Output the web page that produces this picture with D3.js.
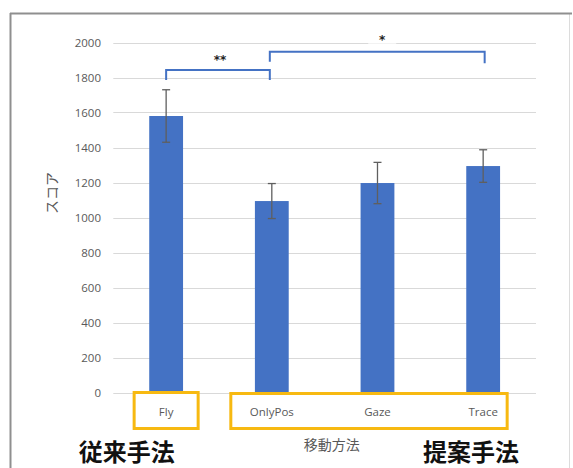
<!DOCTYPE html>
<html><head><meta charset="utf-8">
<script src="https://cdn.jsdelivr.net/npm/d3@7"></script>
<style>body{margin:0;background:#fff}svg{display:block}</style>
</head><body>
<script>
const categories = ["Fly", "OnlyPos", "Gaze", "Trace"];
const means = [1580, 1094, 1197, 1294];
const errors = [150, 100, 118, 93];
const yTicks = [0, 200, 400, 600, 800, 1000, 1200, 1400, 1600, 1800, 2000];
const brackets = [
  {from: "Fly", to: "OnlyPos", top: 1843, leftEnd: 1786, rightEnd: 1786, label: "**", labelY: 1906},
  {from: "OnlyPos", to: "Trace", top: 1947, leftEnd: 1890, rightEnd: 1881, label: "*", labelY: 2022}
];
const groupLabels = ["従来手法", "提案手法"];
const xTitle = "移動方法";
const yTitle = "スコア";

const W = 573, H = 468;
const svg = d3.select("body").append("svg").attr("width", W).attr("height", H);

// frame
svg.append("rect").attr("x", 10.5).attr("y", 13.5).attr("width", 559).attr("height", 470)
  .attr("fill", "#fff").attr("stroke", "#dcdcdc").attr("stroke-width", 1);
svg.append("line").attr("x1", 10).attr("x2", 572).attr("y1", 13.5).attr("y2", 13.5).attr("stroke", "#8f8f8f").attr("stroke-width", 2);
svg.append("line").attr("x1", 10.5).attr("x2", 10.5).attr("y1", 13).attr("y2", 468).attr("stroke", "#8f8f8f").attr("stroke-width", 2);

const x = d3.scaleBand().domain(categories).range([113.3, 536]).paddingInner(0.68).paddingOuter(0.34);
const y = d3.scaleLinear().domain([0, 2000]).range([392.5, 42.5]);
const cx = c => x(c) + x.bandwidth() / 2;

// gridlines
svg.append("g").selectAll("line").data(yTicks).join("line")
  .attr("x1", 113.3).attr("x2", 536)
  .attr("y1", d => Math.round(y(d)) + 0.5).attr("y2", d => Math.round(y(d)) + 0.5)
  .attr("stroke", "#d9d9d9").attr("stroke-width", 1);

// y axis labels
const yAxis = d3.axisLeft(y).tickValues(yTicks).tickFormat(d3.format("d")).tickSize(0).tickPadding(0);
const ya = svg.append("g").attr("transform", "translate(101,0)").call(yAxis);
ya.select(".domain").remove();
ya.selectAll("text").attr("font-family", "'Open Sans', sans-serif").attr("font-size", 11.5).attr("fill", "#595959");

// bars
const data = categories.map((c, i) => ({c, m: means[i], e: errors[i]}));
svg.append("g").selectAll("rect").data(data).join("rect")
  .attr("x", d => x(d.c)).attr("width", x.bandwidth())
  .attr("y", d => y(d.m)).attr("height", d => y(0) - y(d.m))
  .attr("fill", "#4472C4");

// error bars
const eb = svg.append("g").attr("stroke", "#5f5f5f").attr("stroke-width", 1.3).attr("fill", "none");
data.forEach(d => {
  const xc = cx(d.c);
  eb.append("line").attr("x1", xc).attr("x2", xc).attr("y1", y(d.m + d.e)).attr("y2", y(d.m - d.e));
  eb.append("line").attr("x1", xc - 4).attr("x2", xc + 4).attr("y1", y(d.m + d.e)).attr("y2", y(d.m + d.e));
  eb.append("line").attr("x1", xc - 4).attr("x2", xc + 4).attr("y1", y(d.m - d.e)).attr("y2", y(d.m - d.e));
});

// category labels
const xAxis = d3.axisBottom(x).tickSize(0).tickPadding(0);
const xa = svg.append("g").attr("transform", "translate(0,411.5)").call(xAxis);
xa.select(".domain").remove();
xa.selectAll("text").attr("font-family", "'Open Sans', sans-serif").attr("font-size", 11.5).attr("fill", "#595959")
  .attr("dy", "0.35em");

// highlight boxes
const boxStroke = "#F7B911";
svg.append("rect").attr("x", cx("Fly") - 32).attr("y", 392.5).attr("width", 64).attr("height", 36)
  .attr("fill", "none").attr("stroke", boxStroke).attr("stroke-width", 3);
svg.append("rect").attr("x", cx("OnlyPos") - 41).attr("y", 393.5).attr("width", cx("Trace") + 24 - (cx("OnlyPos") - 41)).attr("height", 35)
  .attr("fill", "none").attr("stroke", boxStroke).attr("stroke-width", 3);

// brackets
brackets.forEach((b, i) => {
  const x1 = cx(b.from) + (i === 1 ? -2 : 0);
  const x2 = cx(b.to) + (i === 0 ? -2 : 1.5);
  const path = d3.path();
  path.moveTo(x1, y(b.leftEnd));
  path.lineTo(x1, y(b.top));
  path.lineTo(x2, y(b.top));
  path.lineTo(x2, y(b.rightEnd));
  const lx = (x1 + x2) / 2 + (i === 1 ? 5 : 2);
  if (i === 1) {
    svg.append("rect").attr("x", lx - 14).attr("y", y(b.labelY) - 5).attr("width", 28).attr("height", 10).attr("fill", "#fff");
  }
  svg.append("path").attr("d", path.toString()).attr("fill", "none").attr("stroke", "#4472C4").attr("stroke-width", 2);
  svg.append("text").attr("x", lx).attr("y", y(b.labelY) + 5)
    .attr("text-anchor", "middle").attr("font-family", "'DejaVu Sans', sans-serif").attr("font-weight", "bold")
    .attr("font-size", 12).attr("fill", "#222").text(b.label);
});

// axis titles
svg.append("text").attr("x", 331.7).attr("y", 445).attr("dy", "0.35em").attr("text-anchor", "middle")
  .attr("font-family", "'Noto Sans CJK JP', sans-serif").attr("font-size", 14).attr("fill", "#595959").text(xTitle);
svg.append("text").attr("transform", "translate(52,193) rotate(-90)").attr("dy", "0.35em").attr("text-anchor", "middle")
  .attr("font-family", "'Noto Sans CJK JP', sans-serif").attr("font-size", 14).attr("fill", "#595959").text(yTitle);

// group labels
svg.append("text").attr("x", 126.7).attr("y", 452).attr("dy", "0.36em").attr("text-anchor", "middle")
  .attr("font-family", "'Noto Sans CJK JP', sans-serif").attr("font-weight", "bold").attr("font-size", 24).attr("fill", "#111").text(groupLabels[0]);
svg.append("text").attr("x", 471).attr("y", 452.5).attr("dy", "0.36em").attr("text-anchor", "middle")
  .attr("font-family", "'Noto Sans CJK JP', sans-serif").attr("font-weight", "bold").attr("font-size", 24).attr("fill", "#111").text(groupLabels[1]);
</script>
</body></html>
